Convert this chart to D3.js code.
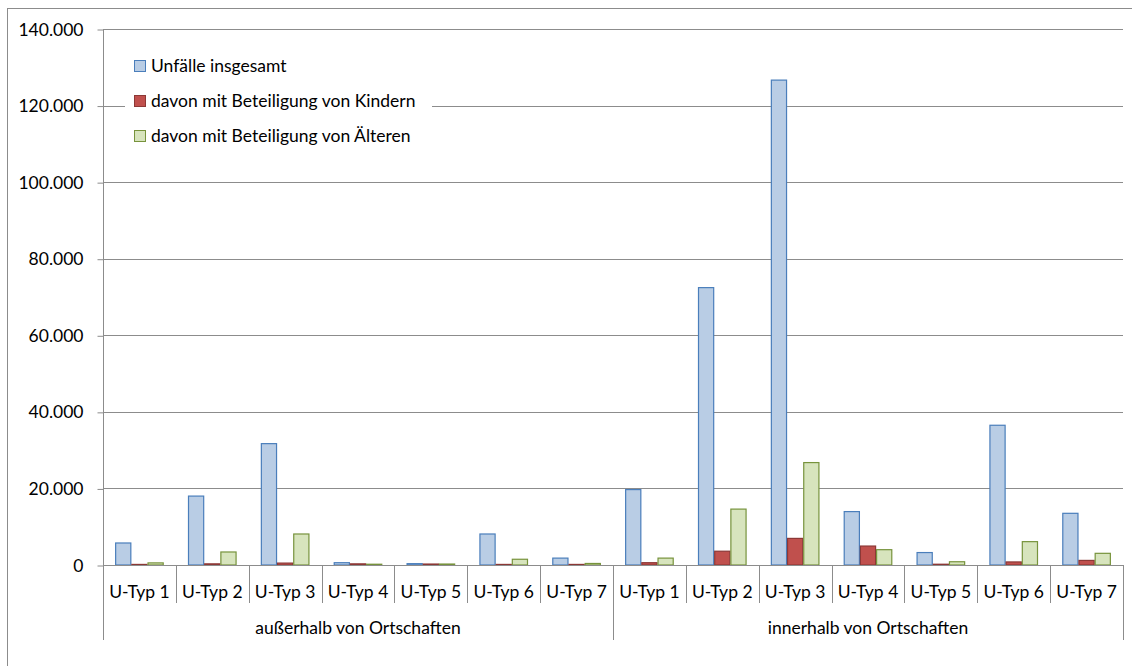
<!DOCTYPE html>
<html>
<head>
<meta charset="utf-8">
<script src="https://cdn.jsdelivr.net/npm/d3@7"></script>
<style>
  html, body { margin: 0; padding: 0; background: #fff; }
  svg text { font-family: Lato, "Open Sans", sans-serif; fill: #000; }
</style>
</head>
<body>
<svg id="chart" width="1132" height="666"></svg>
<script>
// Accident counts by accident type, outside and inside built-up areas
const groups = ["außerhalb von Ortschaften", "innerhalb von Ortschaften"];
const types = ["U-Typ 1", "U-Typ 2", "U-Typ 3", "U-Typ 4", "U-Typ 5", "U-Typ 6", "U-Typ 7"];
const seriesNames = ["Unfälle insgesamt", "davon mit Beteiligung von Kindern", "davon mit Beteiligung von Älteren"];

// values per type, outside then inside built-up areas
const insgesamt = [5750, 18000, 31700, 600, 350, 8100, 1800,
                   19700, 72450, 126650, 13950, 3250, 36500, 13500];
const kinder    = [150, 300, 500, 300, 250, 150, 150,
                   600, 3600, 6950, 4950, 200, 800, 1200];
const aeltere   = [550, 3400, 8100, 200, 250, 1500, 400,
                   1800, 14600, 26750, 4000, 850, 6100, 3050];
const yTicks = [0, 20000, 40000, 60000, 80000, 100000, 120000, 140000];

const fills   = ["#b9cde5", "#c0504d", "#d7e4bd"];
const strokes = ["#4a7ebb", "#8c3836", "#77933c"];

const svg = d3.select("#chart");
const plotLeft = 103, plotRight = 1123, plotTop = 29, plotBottom = 565;
const fontSize = "17.5px";

// outer chart frame
svg.append("rect")
  .attr("x", 7.5).attr("y", 8.5).attr("width", 1140).attr("height", 680)
  .attr("fill", "#fff").attr("stroke", "#8c8c8c").attr("stroke-width", 1);

const cats = [];
groups.forEach((g, gi) => types.forEach((t, ti) => cats.push({ key: gi + "-" + ti, group: g, type: t, idx: gi * types.length + ti })));

const x = d3.scaleBand().domain(cats.map(c => c.key)).range([plotLeft, plotRight]).padding(0);
const xs = d3.scaleBand().domain(d3.range(3)).range([0, x.bandwidth()]).paddingInner(0).paddingOuter(0.75);
const y = d3.scaleLinear().domain([0, 140000]).range([plotBottom, plotTop]);

const de = d3.formatLocale({ decimal: ",", thousands: ".", grouping: [3], currency: ["", "€"] });
const fmt = de.format(",.0f");

// horizontal gridlines
svg.append("g").selectAll("line").data(yTicks.filter(v => v > 0)).join("line")
  .attr("x1", plotLeft).attr("x2", plotRight)
  .attr("y1", d => Math.round(y(d)) + 0.5).attr("y2", d => Math.round(y(d)) + 0.5)
  .attr("stroke", "#8c8c8c").attr("stroke-width", 1);

// value axis
const yAxis = svg.append("g").attr("transform", `translate(${plotLeft + 0.5},0.5)`)
  .call(d3.axisLeft(y).tickValues(yTicks).tickFormat(fmt).tickSize(6).tickPadding(14));
yAxis.select(".domain").remove();
yAxis.selectAll(".tick line").attr("stroke", "#8c8c8c");
yAxis.selectAll(".tick text").style("font-size", fontSize).attr("font-family", "Lato, sans-serif");
svg.append("line").attr("x1", plotLeft + 0.5).attr("x2", plotLeft + 0.5).attr("y1", plotTop).attr("y2", 640)
  .attr("stroke", "#8c8c8c");

// bars
const seriesVals = [insgesamt, kinder, aeltere];
seriesVals.forEach((vals, si) => {
  svg.append("g").selectAll("rect").data(cats).join("rect")
    .attr("x", c => x(c.key) + xs(si) + 0.5)
    .attr("width", xs.bandwidth() - 1)
    .attr("y", c => y(vals[c.idx]))
    .attr("height", c => plotBottom - y(vals[c.idx]))
    .attr("fill", fills[si]).attr("stroke", strokes[si]).attr("stroke-width", 1.2);
});

// category axis
svg.append("line").attr("x1", plotLeft).attr("x2", plotRight).attr("y1", plotBottom + 0.5).attr("y2", plotBottom + 0.5)
  .attr("stroke", "#8c8c8c");
const bounds = cats.map(c => x(c.key)).concat([plotRight]);
svg.append("g").selectAll("line").data(bounds).join("line")
  .attr("x1", d => Math.round(d) + 0.5).attr("x2", d => Math.round(d) + 0.5)
  .attr("y1", plotBottom).attr("y2", (d, i) => (i % types.length === 0) ? 640 : 603)
  .attr("stroke", "#8c8c8c");

svg.append("g").selectAll("text").data(cats).join("text")
  .attr("x", c => x(c.key) + x.bandwidth() / 2).attr("y", 598)
  .attr("text-anchor", "middle").style("font-size", fontSize)
  .text(c => c.type);

svg.append("g").selectAll("text").data(groups).join("text")
  .attr("x", (g, gi) => (x(gi + "-0") + x(gi + "-" + (types.length - 1)) + x.bandwidth()) / 2)
  .attr("y", 634).attr("text-anchor", "middle").style("font-size", fontSize)
  .text(g => g);

// legend
const lg = svg.append("g");
lg.append("rect").attr("x", 125).attr("y", 48).attr("width", 307).attr("height", 104).attr("fill", "#fff");
seriesNames.forEach((name, i) => {
  const cy = 66 + i * 35;
  lg.append("rect").attr("x", 134.5).attr("y", cy - 5.5).attr("width", 11).attr("height", 11)
    .attr("fill", fills[i]).attr("stroke", strokes[i]);
  lg.append("text").attr("x", 151).attr("y", cy + 6).style("font-size", fontSize).text(name);
});
</script>
</body>
</html>
